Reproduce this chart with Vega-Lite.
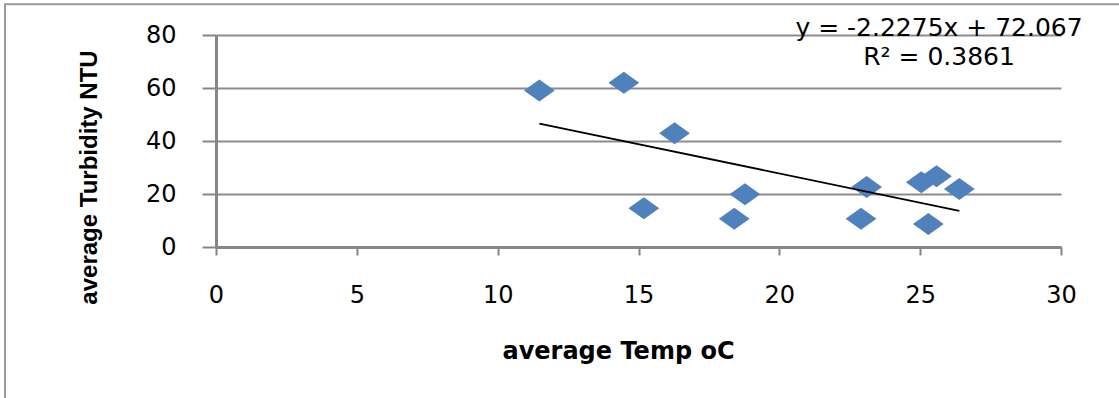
{
  "$schema": "https://vega.github.io/schema/vega-lite/v6.json",
  "width": 845,
  "height": 212,
  "autosize": "none",
  "padding": {"left": 216, "top": 35, "right": 58, "bottom": 151},
  "background": "white",
  "config": {
    "view": {"stroke": null},
    "font": "DejaVu Sans",
    "axis": {
      "domainColor": "#868686",
      "domainWidth": 3,
      "tickColor": "#868686",
      "tickWidth": 2,
      "labelFont": "DejaVu Sans",
      "labelFontSize": 24,
      "labelFlush": false,
      "labelColor": "#000000",
      "titleColor": "#000000",
      "titleFontWeight": "bold"
    }
  },
  "datasets": {
    "points": [
      {"temp": 11.48, "turb": 59.1},
      {"temp": 14.48, "turb": 62.0},
      {"temp": 16.28, "turb": 42.9},
      {"temp": 15.19, "turb": 14.6},
      {"temp": 18.78, "turb": 19.9},
      {"temp": 18.40, "turb": 10.7},
      {"temp": 23.10, "turb": 22.6},
      {"temp": 22.90, "turb": 10.7},
      {"temp": 25.04, "turb": 24.4},
      {"temp": 25.58, "turb": 26.7},
      {"temp": 26.39, "turb": 21.9},
      {"temp": 25.29, "turb": 8.7}
    ],
    "trend": [
      {"temp": 11.48, "turb": 46.6},
      {"temp": 26.39, "turb": 13.6}
    ],
    "one": [{}]
  },
  "layer": [
    {
      "data": {"name": "one"},
      "mark": {"type": "rect", "fill": null, "stroke": "#9a9a9a", "strokeWidth": 2},
      "encoding": {
        "x": {"datum": -7.49, "type": "quantitative"},
        "x2": {"datum": 34},
        "y": {"datum": 91.6, "type": "quantitative"},
        "y2": {"datum": -60}
      }
    },
    {
      "data": {"name": "points"},
      "mark": {
        "type": "point",
        "shape": "M-1.4,0L0,-1L1.4,0L0,1Z",
        "filled": true,
        "size": 484,
        "color": "#4F81BD",
        "opacity": 1
      },
      "encoding": {
        "x": {
          "field": "temp",
          "type": "quantitative",
          "scale": {"domain": [0, 30], "nice": false, "zero": false},
          "axis": {
            "title": "average Temp oC",
            "values": [0, 5, 10, 15, 20, 25, 30],
            "grid": false,
            "tickSize": 8,
            "labelPadding": 28,
            "titleFont": "DejaVu Sans",
            "titleFontSize": 24,
            "titleX": 402,
            "titleY": 104,
            "titleBaseline": "middle",
            "titleAnchor": null,
            "titleAlign": "center"
          }
        },
        "y": {
          "field": "turb",
          "type": "quantitative",
          "scale": {"domain": [0, 80], "nice": false, "zero": false},
          "axis": {
            "title": "average Turbidity NTU",
            "values": [0, 20, 40, 60, 80],
            "grid": true,
            "gridColor": "#8c8c8c",
            "gridWidth": 2,
            "tickSize": 14,
            "labelPadding": 26,
            "titleFont": "Liberation Sans",
            "titleFontSize": 24,
            "titleX": -127,
            "titleY": 142,
            "titleAngle": 270,
            "titleBaseline": "middle",
            "titleAlign": "center",
            "titleAnchor": null
          }
        }
      }
    },
    {
      "data": {"name": "trend"},
      "mark": {"type": "line", "color": "#000000", "strokeWidth": 1.8},
      "encoding": {
        "x": {"field": "temp", "type": "quantitative"},
        "y": {"field": "turb", "type": "quantitative"}
      }
    },
    {
      "data": {"name": "one"},
      "mark": {"type": "text", "text": "y = -2.2275x + 72.067", "font": "DejaVu Sans", "fontSize": 25, "align": "center", "baseline": "middle", "color": "#000000"},
      "encoding": {
        "x": {"datum": 25.67, "type": "quantitative"},
        "y": {"datum": 82.6, "type": "quantitative"}
      }
    },
    {
      "data": {"name": "one"},
      "mark": {"type": "text", "text": "R² = 0.3861", "font": "DejaVu Sans", "fontSize": 25, "align": "center", "baseline": "middle", "color": "#000000"},
      "encoding": {
        "x": {"datum": 25.67, "type": "quantitative"},
        "y": {"datum": 71.8, "type": "quantitative"}
      }
    }
  ]
}
